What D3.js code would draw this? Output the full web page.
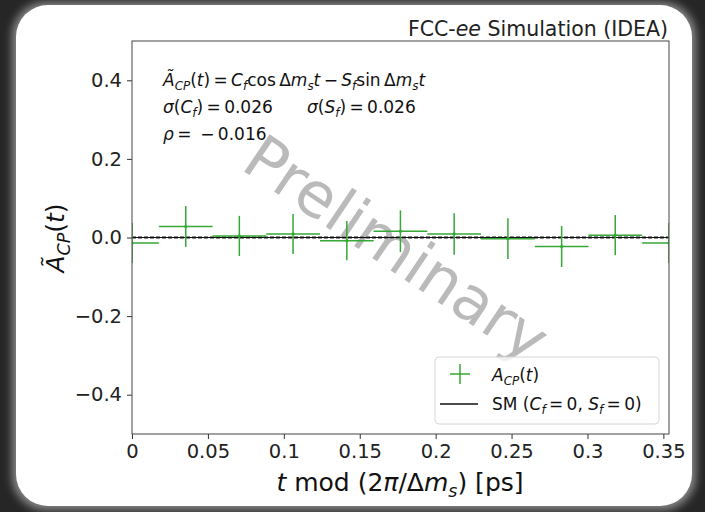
<!DOCTYPE html>
<html>
<head>
<meta charset="utf-8">
<script src="https://cdn.jsdelivr.net/npm/d3@7"></script>
<style>
  html, body { margin: 0; padding: 0; background: #262626; }
  svg { display: block; }
</style>
</head>
<body>
<div id="svganchor"></div>
<script>
// t mod (2pi/dm_s) bin centres [ps]
let binCenters = [0, 0.0354, 0.0707, 0.1061, 0.1415, 0.1768, 0.2122, 0.2476, 0.2830, 0.3183, 0.3537];
let binHalfWidth = [0.0177, 0.0177, 0.0177, 0.0177, 0.0177, 0.0177, 0.0177, 0.0177, 0.0177, 0.0177, 0.0177];
let acpValues = [-0.014, 0.028, 0.004, 0.009, -0.008, 0.016, 0.009, -0.003, -0.023, 0.006, -0.014];
let acpErrors = [0.051, 0.052, 0.051, 0.051, 0.050, 0.053, 0.053, 0.052, 0.052, 0.051, 0.051];

let xTicks = [0, 0.05, 0.1, 0.15, 0.2, 0.25, 0.3, 0.35];
let xTickLabels = ["0", "0.05", "0.1", "0.15", "0.2", "0.25", "0.3", "0.35"];
let yTicks = [-0.4, -0.2, 0, 0.2, 0.4];
let yTickLabels = ["\u22120.4", "\u22120.2", "0.0", "0.2", "0.4"];

let width = 705;
let height = 512;
let margin = { top: 41, right: 36, bottom: 78, left: 132 };
let font = "'DejaVu Sans', sans-serif";
let green = "#35a835";
let thin = "\u2009";

let svg = d3.select("#svganchor").append("svg").attr("width", width).attr("height", height);

// dark surround with glow + white rounded panel
let defs = svg.append("defs");
let blur = defs.append("filter").attr("id", "glow").attr("x", "-10%").attr("y", "-10%").attr("width", "120%").attr("height", "120%");
blur.append("feGaussianBlur").attr("stdDeviation", 4);
defs.append("clipPath").attr("id", "plotclip").append("rect")
  .attr("x", margin.left).attr("y", margin.top)
  .attr("width", width - margin.left - margin.right)
  .attr("height", height - margin.top - margin.bottom);

svg.append("rect").attr("width", width).attr("height", height).attr("fill", "#262626");
svg.append("rect").attr("x", 12).attr("y", 2).attr("width", 684).attr("height", 508).attr("rx", 34)
  .attr("fill", "#8a8a8a").attr("filter", "url(#glow)");
svg.append("rect").attr("x", 16).attr("y", 5).attr("width", 676).attr("height", 501).attr("rx", 32)
  .attr("fill", "#ffffff");

let xScale = d3.scaleLinear().domain([0, 0.3537]).range([margin.left, width - margin.right]);
let yScale = d3.scaleLinear().domain([-0.5, 0.5]).range([height - margin.bottom, margin.top]);

// mathtext-like helper: parts are [text, italic, sub]
function mathText(sel, parts, size) {
  let shift = 0;
  parts.forEach(function (p) {
    let target = p[2] ? size * 0.22 : 0;
    sel.append("tspan")
      .attr("dy", target - shift)
      .attr("font-style", p[1] ? "italic" : "normal")
      .attr("font-size", p[2] ? size * 0.7 : size)
      .text(p[0]);
    shift = target;
  });
}

// watermark
svg.append("text")
  .attr("transform", "translate(394,252) rotate(34)")
  .attr("text-anchor", "middle").attr("dominant-baseline", "middle")
  .attr("font-family", font).attr("font-size", 62)
  .attr("fill", "#bababa")
  .text("Preliminary");

// axes
let xAxis = d3.axisBottom(xScale).tickValues(xTicks).tickSize(5).tickPadding(5)
  .tickFormat(function (d, i) { return xTickLabels[i]; });
let yAxis = d3.axisLeft(yScale).tickValues(yTicks).tickSize(5).tickPadding(5)
  .tickFormat(function (d, i) { return yTickLabels[i]; });

let gx = svg.append("g").attr("transform", "translate(0," + (height - margin.bottom) + ")").call(xAxis);
let gy = svg.append("g").attr("transform", "translate(" + margin.left + ",0)").call(yAxis);
[gx, gy].forEach(function (g) {
  g.select(".domain").remove();
  g.selectAll("line").attr("stroke", "#333");
  g.selectAll("text").attr("font-family", font).attr("font-size", 19.5).attr("fill", "#222");
});

// zero lines: SM and fit
let plot = svg.append("g").attr("clip-path", "url(#plotclip)");
plot.append("line")
  .attr("x1", xScale(0)).attr("x2", xScale(0.3537))
  .attr("y1", yScale(0)).attr("y2", yScale(0))
  .attr("stroke", "#8c8c8c").attr("stroke-width", 3).attr("stroke-dasharray", "4,2");
plot.append("line")
  .attr("x1", xScale(0)).attr("x2", xScale(0.3537))
  .attr("y1", yScale(0)).attr("y2", yScale(0))
  .attr("stroke", "#111").attr("stroke-width", 1);

// error bars
let pts = binCenters.map(function (c, i) {
  return { x: c, hw: binHalfWidth[i], y: acpValues[i], e: acpErrors[i] };
});
let bars = plot.selectAll(".pt").data(pts).enter().append("g").attr("class", "pt");
bars.append("line")
  .attr("x1", function (d) { return xScale(d.x - d.hw); })
  .attr("x2", function (d) { return xScale(d.x + d.hw); })
  .attr("y1", function (d) { return yScale(d.y); })
  .attr("y2", function (d) { return yScale(d.y); })
  .attr("stroke", green).attr("stroke-width", 1.5);
bars.append("line")
  .attr("x1", function (d) { return xScale(d.x); })
  .attr("x2", function (d) { return xScale(d.x); })
  .attr("y1", function (d) { return yScale(d.y - d.e); })
  .attr("y2", function (d) { return yScale(d.y + d.e); })
  .attr("stroke", green).attr("stroke-width", 1.5);
bars.append("circle")
  .attr("cx", function (d) { return xScale(d.x); })
  .attr("cy", function (d) { return yScale(d.y); })
  .attr("r", 1.6).attr("fill", green);

// frame
svg.append("rect")
  .attr("x", margin.left).attr("y", margin.top)
  .attr("width", width - margin.left - margin.right)
  .attr("height", height - margin.top - margin.bottom)
  .attr("fill", "none").attr("stroke", "#444").attr("stroke-width", 1);

// title
let title = svg.append("text").attr("x", 668).attr("y", 36).attr("text-anchor", "end")
  .attr("font-family", font).attr("fill", "#222");
mathText(title, [["FCC-", false], ["ee", true], [" Simulation (IDEA)", false]], 20.5);

// annotation
let eq = thin + "=" + thin;
let ann1 = svg.append("text").attr("x", 163).attr("y", 86).attr("font-family", font).attr("fill", "#111");
mathText(ann1, [["\u00c3", true], ["CP", true, true], ["(", false], ["t", true], [")" + eq, false],
  ["C", true], ["f", true, true], ["cos" + thin + "\u0394", false], ["m", true], ["s", true, true], ["t", true],
  [thin + "\u2212" + thin, false], ["S", true], ["f", true, true], ["sin" + thin + "\u0394", false], ["m", true], ["s", true, true], ["t", true]], 17);
let ann2 = svg.append("text").attr("x", 163).attr("y", 113).attr("font-family", font).attr("fill", "#111");
mathText(ann2, [["\u03c3", true], ["(", false], ["C", true], ["f", true, true], [")" + eq + "0.026", false]], 17);
let ann3 = svg.append("text").attr("x", 307).attr("y", 113).attr("font-family", font).attr("fill", "#111");
mathText(ann3, [["\u03c3", true], ["(", false], ["S", true], ["f", true, true], [")" + eq + "0.026", false]], 17);
let ann4 = svg.append("text").attr("x", 163).attr("y", 140).attr("font-family", font).attr("fill", "#111");
mathText(ann4, [["\u03c1", true], [eq + " \u2212" + thin + "0.016", false]], 17);

// axis labels
let xl = svg.append("text").attr("x", 400).attr("y", 491).attr("text-anchor", "middle")
  .attr("font-family", font).attr("fill", "#111");
mathText(xl, [["t", true], [" mod (2", false], ["\u03c0", true], ["/\u0394", false], ["m", true], ["s", true, true], [") [ps]", false]], 25);
let yl = svg.append("text").attr("transform", "translate(64,238) rotate(-90)").attr("text-anchor", "middle")
  .attr("font-family", font).attr("fill", "#111");
mathText(yl, [["\u00c3", true], ["CP", true, true], ["(", false], ["t", true], [")", false]], 25);

// legend
let lg = svg.append("g");
lg.append("rect").attr("x", 435).attr("y", 357).attr("width", 224).attr("height", 67).attr("rx", 4)
  .attr("fill", "#fff").attr("fill-opacity", 0.8).attr("stroke", "#d6d6d6");
lg.append("line").attr("x1", 450).attr("x2", 470).attr("y1", 374).attr("y2", 374).attr("stroke", green).attr("stroke-width", 1.5);
lg.append("line").attr("x1", 460).attr("x2", 460).attr("y1", 364).attr("y2", 384).attr("stroke", green).attr("stroke-width", 1.5);
lg.append("line").attr("x1", 440).attr("x2", 478).attr("y1", 404).attr("y2", 404).attr("stroke", "#111").attr("stroke-width", 1.5);
let l1 = lg.append("text").attr("x", 492).attr("y", 381).attr("font-family", font).attr("fill", "#111");
mathText(l1, [["A", true], ["CP", true, true], ["(", false], ["t", true], [")", false]], 17);
let l2 = lg.append("text").attr("x", 492).attr("y", 410).attr("font-family", font).attr("fill", "#111");
mathText(l2, [["SM (", false], ["C", true], ["f", true, true], [eq + "0, ", false], ["S", true], ["f", true, true], [eq + "0)", false]], 17);
</script>
</body>
</html>
